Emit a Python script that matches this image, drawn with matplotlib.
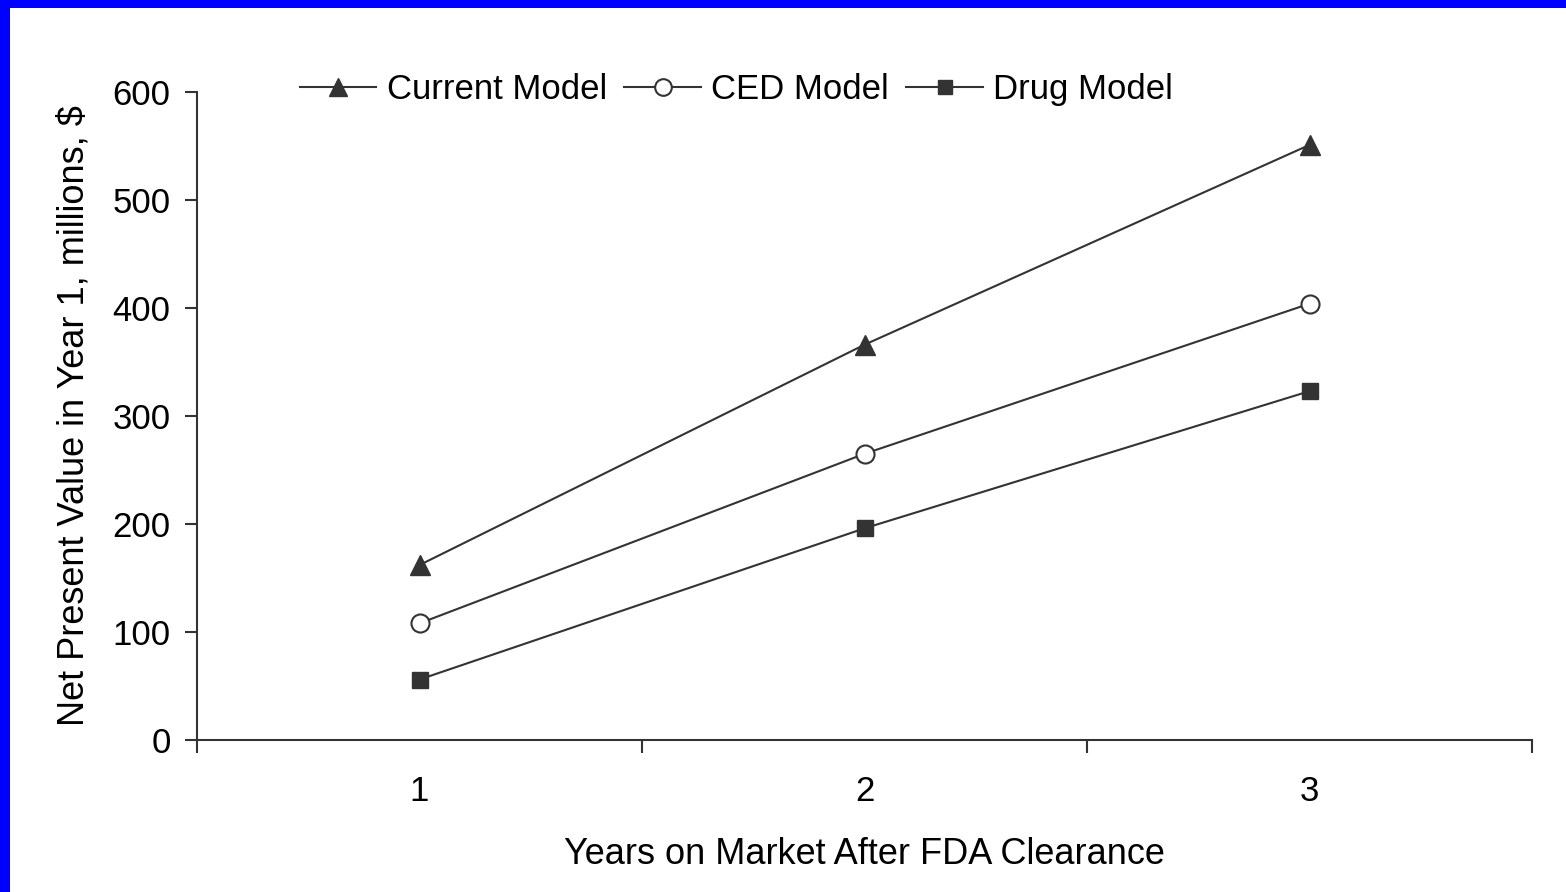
import matplotlib
matplotlib.use("Agg")
import matplotlib.pyplot as plt
from matplotlib.patches import Rectangle
from matplotlib.ticker import FixedLocator, NullFormatter

years = [1, 2, 3]
current_model = [162, 366, 551]
ced_model = [108, 265, 404]
drug_model = [56, 196, 323]
yticks = [0, 100, 200, 300, 400, 500, 600]

plt.rcParams['font.family'] = ['Liberation Sans', 'DejaVu Sans']
W, H = 1566, 892
FS = 25
LFS = 26
fig = plt.figure(figsize=(W / 100, H / 100), dpi=100)
fig.patch.set_facecolor('#0000ff')
fig.patches.append(Rectangle((10 / W, 0), 1, (H - 8) / H, transform=fig.transFigure,
                             facecolor='white', edgecolor='none', zorder=-10))

ax = fig.add_axes([197 / W, (H - 740) / H, (1532 - 197) / W, (740 - 92) / H])
ax.set_facecolor('none')
c = '#333333'
lw = 1.5
ax.plot(years, current_model, color=c, lw=lw, marker='^', ms=14, mfc=c, mec=c, label='Current Model', clip_on=False)
ax.plot(years, ced_model, color=c, lw=lw, marker='o', ms=13, mfc='white', mec=c, mew=1.5, label='CED Model', clip_on=False)
ax.plot(years, drug_model, color=c, lw=lw, marker='s', ms=11, mfc=c, mec=c, label='Drug Model', clip_on=False)

ax.set_xlim(0.5, 3.5)
ax.set_ylim(0, 600)
ax.set_yticks(yticks)
ax.set_yticklabels([str(v) for v in yticks])
ax.xaxis.set_major_locator(FixedLocator([0.5, 1.5, 2.5, 3.5]))
ax.xaxis.set_major_formatter(NullFormatter())
ax.xaxis.set_minor_locator(FixedLocator(years))
ax.set_xticklabels([str(y) for y in years], minor=True)
ax.tick_params(axis='x', which='major', length=9, width=1.5, color=c, direction='out')
ax.tick_params(axis='x', which='minor', length=0, pad=25, labelsize=FS)
ax.tick_params(axis='y', length=9, width=1.5, color=c, direction='out', pad=10, labelsize=FS)
for s in ['top', 'right']:
    ax.spines[s].set_visible(False)
for s in ['left', 'bottom']:
    ax.spines[s].set_color(c)
    ax.spines[s].set_linewidth(1.5)

ax.set_xlabel('Years on Market After FDA Clearance', fontsize=LFS, labelpad=21)
ax.set_ylabel('Net Present Value in Year 1, millions, $', fontsize=LFS, labelpad=15)

leg = fig.legend(loc='upper left', bbox_to_anchor=(300 / W, 1 - 73 / H), ncol=3, frameon=False,
                 fontsize=FS, handlelength=2.2, handletextpad=0.3, columnspacing=0.5,
                 borderpad=0, borderaxespad=0)
for h, ms in zip(leg.legend_handles, [13, 12, 10]):
    h.set_markersize(ms)

fig.savefig('out.png', dpi=100, facecolor=fig.get_facecolor())
